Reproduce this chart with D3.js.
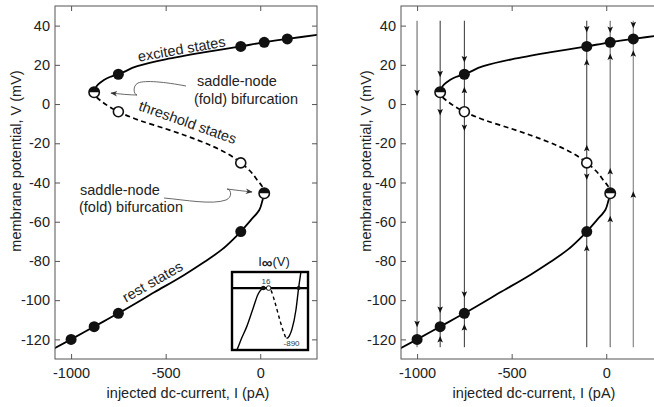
<!DOCTYPE html>
<html><head><meta charset="utf-8">
<script src="https://cdn.jsdelivr.net/npm/d3@7"></script>
<style>
body{margin:0;background:#fff}
svg{display:block}
text{font-family:"Liberation Sans",Arial,Helvetica,sans-serif;fill:#222}
</style>
</head><body>
<svg id="c" width="654" height="407"></svg>
<script>
// ---------- data ----------
// steady-state I-V curve: membrane potential V (mV) and injected current I (pA)
const curveV = [-127, -120, -113.5, -106.7, -96, -87, -80.8, -74, -69.6, -65, -59.1, -54, -49, -45.5, -42, -39, -34, -30, -25.5, -21.6, -15.9, -12.6, -8.3, -3.9, 1.5, 4, 6, 8, 10, 12, 13.8, 15.2, 19.3, 22.8, 26.3, 29.4, 31.5, 33.2, 35.3, 37];
const curveI = [-1135, -1000, -878, -750, -560, -400, -300, -200, -150, -103, -49, -5, 12, 21, 10, -14, -55, -103, -170, -250, -400, -500, -640, -750, -841, -870, -878, -872, -857, -830, -795, -750, -650, -500, -300, -103, 21, 143, 300, 420];
// equilibria
const stableI = [-1000, -878, -750, -103, -750, -103, 21, 143];
const stableV = [-120, -113.5, -106.7, -65, 15.2, 29.4, 31.5, 33.2];
const unstableI = [-750, -103];
const unstableV = [-3.9, -30];
const foldI = [-878, 21];
const foldV = [6, -45.5];
// current levels shown as vertical phase lines (right panel)
const levelI = [-1000, -878, -750, -103, 21, 143];
const arrowI = [-1000, -1000, -878, -878, -878, -878, -750, -750, -750, -750, -750, -103, -103, -103, -103, -103, 21, 21, 21, 21, 143, 143, 143];
const arrowV = [5.8, -112, 15.5, -4, -104.7, -120, 23, 7, -12, -97, -114, 38.3, 21.2, -22.5, -37, -73.5, 38, 24, -34.4, -58.7, 40.5, 25.7, -46.3];
const arrowDir = ["down", "down", "down", "down", "down", "up", "down", "up", "down", "down", "up", "down", "up", "up", "down", "up", "down", "up", "up", "up", "down", "up", "up"];
// ticks
const xTicks = [-1000, -500, 0];
const yTicks = [40, 20, 0, -20, -40, -60, -80, -100, -120];
// inset I_inf(V)
const insetV = [-112, -105, -95, -83, -68, -58, -50, -46, -40, -34, -28, -20, -9, 0, 6, 12, 18, 27, 33, 38, 43];
const insetI = [-1230, -1102, -900, -680, -330, -100, -5, 16, 22, 16, -40, -240, -560, -790, -890, -850, -730, -380, 16, 300, 600];
const insetLevel = 16;
const insetMinI = -890;
const insetMinV = 6;
const insetDotsV = [-46, -34, 33];

// ---------- layout ----------
const svg = d3.select("#c");
const defs = svg.append("defs");
const plotTop = 6, plotBottom = 359, plotW = 262;
const y = d3.scaleLinear().domain([-130, 50]).range([plotBottom, plotTop]);
const panels = [{left: 55, id: "L", annotate: true, ylabX: 21}, {left: 401, id: "R", annotate: false, ylabX: 371}];
const pts = curveI.map((I, i) => [I, curveV[i]]).reverse();

defs.append("marker").attr("id", "ah").attr("viewBox", "0 0 10 10").attr("refX", 9).attr("refY", 5)
  .attr("markerWidth", 7).attr("markerHeight", 7).attr("markerUnits", "userSpaceOnUse").attr("orient", "auto")
  .append("path").attr("d", "M0,1 L10,5 L0,9 L3,5 Z").attr("fill", "#333");

panels.forEach(p => {
  const x = d3.scaleLinear().domain([-1085, 300]).range([p.left, p.left + plotW]);
  const g = svg.append("g");
  const right = p.left + plotW;
  const yTopFold = y(foldV[0]), yBotFold = y(foldV[1]);
  const band = (id, y0, y1) => defs.append("clipPath").attr("id", id).append("rect")
    .attr("x", p.left).attr("y", y0).attr("width", plotW).attr("height", y1 - y0);
  band("lo" + p.id, yBotFold, plotBottom);
  band("mid" + p.id, yTopFold, yBotFold);
  band("up" + p.id, plotTop, yTopFold);

  // vertical phase lines (right panel)
  if (!p.annotate) {
    const shade = ["#999", "#333", "#333", "#333", "#888", "#888"];
    const width = [1.6, 1, 1, 1, 1.4, 1.2];
    g.selectAll(".lvl").data(levelI).join("line")
      .attr("x1", d => x(d)).attr("x2", d => x(d))
      .attr("y1", y(42.5)).attr("y2", y(-124))
      .attr("stroke", (d, i) => shade[i]).attr("stroke-width", (d, i) => width[i]);
    g.selectAll(".arr").data(arrowI).join("path")
      .attr("transform", (d, i) => `translate(${x(d)},${y(arrowV[i])})`)
      .attr("d", (d, i) => arrowDir[i] === "down" ? "M0,3.5 L-2.8,-3 L0,-1.6 L2.8,-3 Z" : "M0,-3.5 L-2.8,3 L0,1.6 L2.8,3 Z")
      .attr("fill", "#111");
  }

  // curve: three copies clipped by V-bands
  const line = d3.line().x(d => x(d[0])).y(d => y(d[1])).curve(d3.curveMonotoneY);
  g.append("path").attr("d", line(pts)).attr("clip-path", `url(#lo${p.id})`)
    .attr("fill", "none").attr("stroke", "#000").attr("stroke-width", 1.8);
  g.append("path").attr("d", line(pts)).attr("clip-path", `url(#up${p.id})`)
    .attr("fill", "none").attr("stroke", "#000").attr("stroke-width", 1.8);
  g.append("path").attr("d", line(pts)).attr("clip-path", `url(#mid${p.id})`)
    .attr("fill", "none").attr("stroke", "#000").attr("stroke-width", 1.7).attr("stroke-dasharray", "5,3.5");

  // frame & axes
  g.append("rect").attr("x", p.left).attr("y", plotTop).attr("width", plotW).attr("height", plotBottom - plotTop)
    .attr("fill", "none").attr("stroke", "#555").attr("stroke-width", 1);
  const fmt = d => String(d);
  const ax = (gen, tx, ty, labels) => {
    const a = g.append("g").attr("transform", `translate(${tx},${ty})`).call(gen);
    a.select(".domain").remove();
    a.selectAll(".tick line").attr("stroke", "#555");
    a.selectAll("text").attr("font-size", 14.5).attr("fill", "#333")
      .attr("font-family", '"Liberation Sans",Arial,sans-serif');
    if (!labels) a.selectAll("text").remove();
    return a;
  };
  ax(d3.axisLeft(y).tickValues(yTicks).tickSize(-5).tickPadding(5).tickFormat(fmt), p.left, 0, true);
  ax(d3.axisRight(y).tickValues(yTicks).tickSize(-5).tickFormat(fmt), right, 0, false);
  const xa = ax(d3.axisBottom(x).tickValues(xTicks).tickSize(-5).tickPadding(0).tickFormat(fmt), 0, plotBottom, true);
  xa.selectAll("text").attr("dy", null).attr("y", 19);
  ax(d3.axisTop(x).tickValues(xTicks).tickSize(-5).tickFormat(fmt), 0, plotTop, false);

  g.append("text").attr("x", (p.left + right) / 2 + 2).attr("y", 398).attr("text-anchor", "middle")
    .attr("font-size", 14.5).text("injected dc-current, I (pA)");
  g.append("text").attr("transform", `translate(${p.ylabX},161) rotate(-90)`).attr("text-anchor", "middle")
    .attr("font-size", 14.5).text("membrane potential, V (mV)");

  // equilibria
  g.selectAll(".st").data(stableI).join("circle")
    .attr("cx", d => x(d)).attr("cy", (d, i) => y(stableV[i])).attr("r", 5.5).attr("fill", "#111");
  g.selectAll(".un").data(unstableI).join("circle")
    .attr("cx", d => x(d)).attr("cy", (d, i) => y(unstableV[i])).attr("r", 5)
    .attr("fill", "#fff").attr("stroke", "#111").attr("stroke-width", 1.6);
  foldI.forEach((I, i) => {
    const cx = x(I), cy = y(foldV[i]), r = 5.2;
    g.append("circle").attr("cx", cx).attr("cy", cy).attr("r", r).attr("fill", "#fff").attr("stroke", "#111").attr("stroke-width", 1.6);
    g.append("path").attr("d", `M${cx - r},${cy} A${r},${r} 0 0 1 ${cx + r},${cy} Z`).attr("fill", "#111");
  });

  if (p.annotate) {
    const lab = (txt, tx, ty, rot, anchor) => g.append("text")
      .attr("transform", `translate(${tx},${ty}) rotate(${rot})`).attr("text-anchor", anchor || "middle")
      .attr("font-size", 14.5).text(txt);
    lab("excited states", 182.5, 54, -10);
    lab("threshold states", 186, 127, 19.5);
    lab("rest states", 155, 286, -30);
    lab("saddle-node", 197, 86, 0, "start");
    lab("(fold) bifurcation", 194, 104, 0, "start");
    lab("saddle-node", 80, 195, 0, "start");
    lab("(fold) bifurcation", 79, 212, 0, "start");
    g.append("path").attr("d", "M186,86 C165,82 145,80 138,83 C132,86 134,95 137,95 C130,95 120,94 111,93")
      .attr("fill", "none").attr("stroke", "#444").attr("stroke-width", 0.8).attr("marker-end", "url(#ah)");
    g.append("path").attr("d", "M164,198 C186,200 212,205 226,200 C233,197 231,189 227,189 C235,190 243,191 252,192")
      .attr("fill", "none").attr("stroke", "#444").attr("stroke-width", 0.8).attr("marker-end", "url(#ah)");

    // inset
    const ix = d3.scaleLinear().domain([-116, 54]).range([232, 308]);
    const iy = d3.scaleLinear().domain([-1102, 306]).range([350, 272]);
    const ig = g.append("g");
    ig.append("rect").attr("x", 232).attr("y", 272).attr("width", 76).attr("height", 78).attr("fill", "#fff");
    const ic = (id, v0, v1) => defs.append("clipPath").attr("id", id).append("rect")
      .attr("x", ix(v0)).attr("y", 272).attr("width", ix(v1) - ix(v0)).attr("height", 78);
    ic("iA", -116, -36); ic("iB", -36, insetMinV); ic("iC", insetMinV, 54);
    const iline = d3.line().x((d, i) => ix(insetV[i])).y(d => iy(d)).curve(d3.curveMonotoneX);
    ig.append("path").attr("d", iline(insetI)).attr("clip-path", "url(#iA)").attr("fill", "none").attr("stroke", "#000").attr("stroke-width", 1.4);
    ig.append("path").attr("d", iline(insetI)).attr("clip-path", "url(#iC)").attr("fill", "none").attr("stroke", "#000").attr("stroke-width", 1.4);
    ig.append("path").attr("d", iline(insetI)).attr("clip-path", "url(#iB)").attr("fill", "none").attr("stroke", "#000").attr("stroke-width", 1.4).attr("stroke-dasharray", "3.5,3");
    ig.append("line").attr("x1", 232).attr("x2", 308).attr("y1", iy(insetLevel)).attr("y2", iy(insetLevel)).attr("stroke", "#000").attr("stroke-width", 2.2);
    ig.append("circle").attr("cx", ix(insetDotsV[0])).attr("cy", iy(insetLevel)).attr("r", 2.3).attr("fill", "#111");
    ig.append("circle").attr("cx", ix(insetDotsV[1])).attr("cy", iy(insetLevel)).attr("r", 2.3).attr("fill", "#fff").attr("stroke", "#111").attr("stroke-width", 1);
    ig.append("circle").attr("cx", ix(insetDotsV[2])).attr("cy", iy(insetLevel)).attr("r", 2).attr("fill", "#111");
    ig.append("rect").attr("x", 232).attr("y", 272).attr("width", 76).attr("height", 78).attr("fill", "none").attr("stroke", "#000").attr("stroke-width", 2.4);
    ig.append("text").attr("x", ix(-40)).attr("y", iy(insetLevel) - 4).attr("text-anchor", "middle").attr("font-size", 8).style("fill", "#2b3850").text(String(insetLevel));
    ig.append("text").attr("x", ix(insetMinV) + 5).attr("y", iy(insetMinI) + 8).attr("text-anchor", "middle").attr("font-size", 8).style("fill", "#2b3850").text(String(insetMinI));
    const tt = ig.append("text").attr("x", 274).attr("y", 266).attr("text-anchor", "middle").attr("font-size", 13);
    tt.append("tspan").text("I");
    tt.append("tspan").attr("font-weight", "bold").attr("font-size", 15).attr("dy", 2).text("∞");
    tt.append("tspan").attr("dy", -2).text("(V)");
  }
});
</script>
</body></html>
